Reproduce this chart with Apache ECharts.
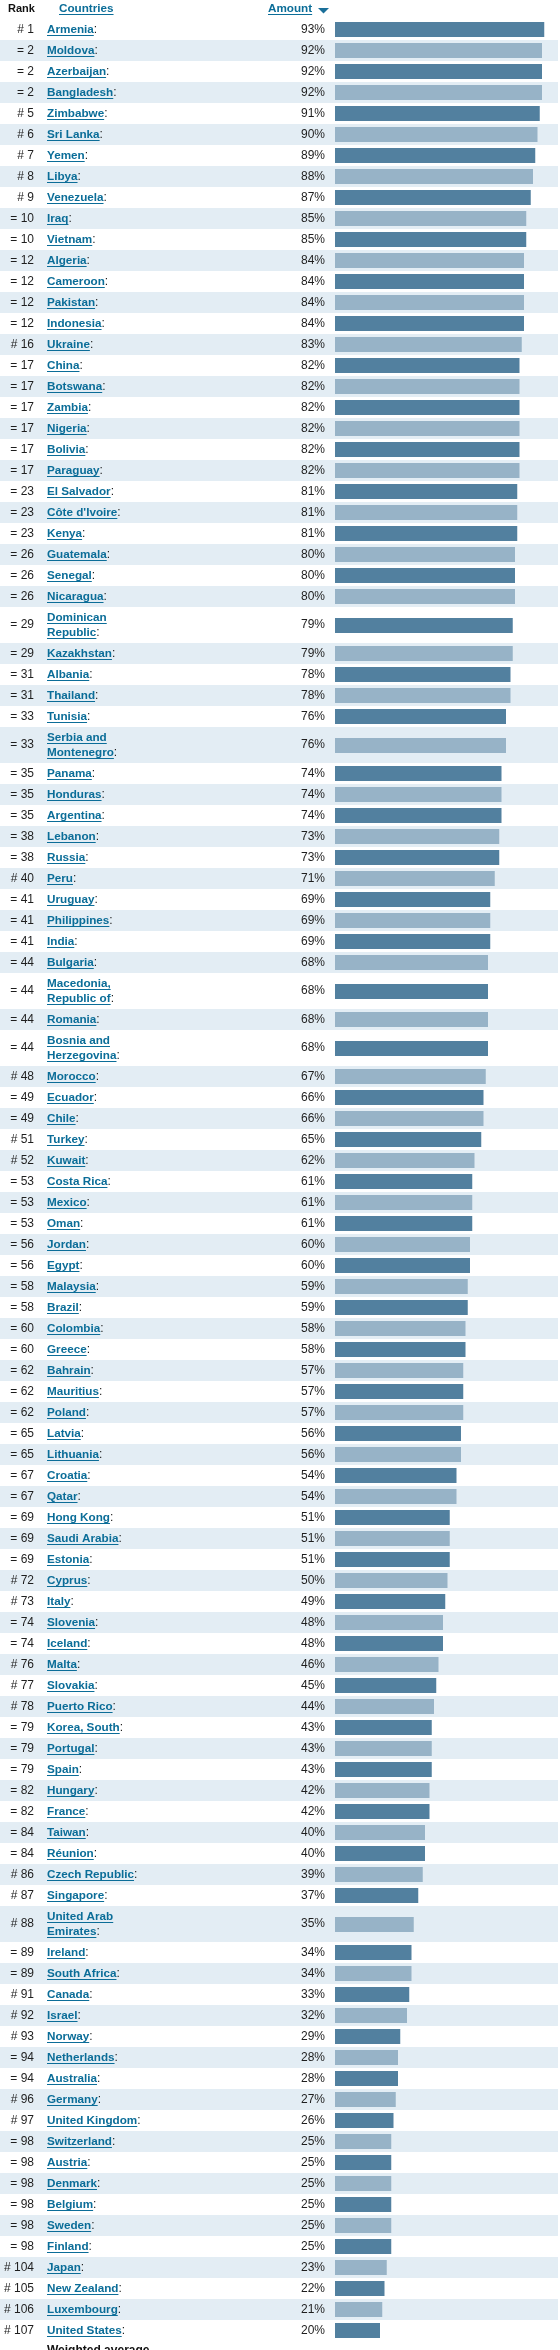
<!DOCTYPE html>
<html><head><meta charset="utf-8">
<script src="https://cdn.jsdelivr.net/npm/echarts@6/dist/echarts.min.js"></script>
<style>html,body{margin:0;padding:0;background:#fff}#chart{width:560px;height:2350px}</style>
</head><body><div id="chart"></div>
<script>
const headerLabels = ["Rank", "Countries", "Amount"];
const footerText = "Weighted average";
const ranks = ["# 1","= 2","= 2","= 2","# 5","# 6","# 7","# 8","# 9","= 10","= 10","= 12","= 12","= 12","= 12","# 16","= 17","= 17","= 17","= 17","= 17","= 17","= 23","= 23","= 23","= 26","= 26","= 26","= 29","= 29","= 31","= 31","= 33","= 33","= 35","= 35","= 35","= 38","= 38","# 40","= 41","= 41","= 41","= 44","= 44","= 44","= 44","# 48","= 49","= 49","# 51","# 52","= 53","= 53","= 53","= 56","= 56","= 58","= 58","= 60","= 60","= 62","= 62","= 62","= 65","= 65","= 67","= 67","= 69","= 69","= 69","# 72","# 73","= 74","= 74","# 76","# 77","# 78","= 79","= 79","= 79","= 82","= 82","= 84","= 84","# 86","# 87","# 88","= 89","= 89","# 91","# 92","# 93","= 94","= 94","# 96","# 97","= 98","= 98","= 98","= 98","= 98","= 98","# 104","# 105","# 106","# 107"];
const countries = ["Armenia","Moldova","Azerbaijan","Bangladesh","Zimbabwe","Sri Lanka","Yemen","Libya","Venezuela","Iraq","Vietnam","Algeria","Cameroon","Pakistan","Indonesia","Ukraine","China","Botswana","Zambia","Nigeria","Bolivia","Paraguay","El Salvador","Côte d'Ivoire","Kenya","Guatemala","Senegal","Nicaragua","Dominican\nRepublic","Kazakhstan","Albania","Thailand","Tunisia","Serbia and\nMontenegro","Panama","Honduras","Argentina","Lebanon","Russia","Peru","Uruguay","Philippines","India","Bulgaria","Macedonia,\nRepublic of","Romania","Bosnia and\nHerzegovina","Morocco","Ecuador","Chile","Turkey","Kuwait","Costa Rica","Mexico","Oman","Jordan","Egypt","Malaysia","Brazil","Colombia","Greece","Bahrain","Mauritius","Poland","Latvia","Lithuania","Croatia","Qatar","Hong Kong","Saudi Arabia","Estonia","Cyprus","Italy","Slovenia","Iceland","Malta","Slovakia","Puerto Rico","Korea, South","Portugal","Spain","Hungary","France","Taiwan","Réunion","Czech Republic","Singapore","United Arab\nEmirates","Ireland","South Africa","Canada","Israel","Norway","Netherlands","Australia","Germany","United Kingdom","Switzerland","Austria","Denmark","Belgium","Sweden","Finland","Japan","New Zealand","Luxembourg","United States"];
const amounts = [93,92,92,92,91,90,89,88,87,85,85,84,84,84,84,83,82,82,82,82,82,82,81,81,81,80,80,80,79,79,78,78,76,76,74,74,74,73,73,71,69,69,69,68,68,68,68,67,66,66,65,62,61,61,61,60,60,59,59,58,58,57,57,57,56,56,54,54,51,51,51,50,49,48,48,46,45,44,43,43,43,42,42,40,40,39,37,35,34,34,33,32,29,28,28,27,26,25,25,25,25,25,25,23,22,21,20];

const FF = '"Liberation Sans", Arial, Helvetica, sans-serif';
const NAME_FONT = 'bold 11.7px ' + FF;
const REG_FONT = '12px ' + FF;
const LINK = '#0b6d98', TXT = '#1e1e1e', BAND = '#e3edf4', DARK = '#52809f', LIGHT = '#97b3c7';
const TOP = 19, ROW_H = 21, LINE_H = 15, BAR_H = 15;
const RANK_X = 34, NAME_X = 47, PCT_X = 325, BAND_W = 558;

const mctx = document.createElement('canvas').getContext('2d');
function tw(t, font) { mctx.font = font; return mctx.measureText(t).width; }

// row extents (in row-height units of the y value axis) derived from label line counts
const rows = [];
let acc = 0;
countries.forEach((c, i) => {
  const h = ROW_H + (c.split('\n').length - 1) * LINE_H;
  rows.push([amounts[i], acc, acc + h, i]);
  acc += h;
});
const total = acc;

function renderItem(params, api) {
  const i = api.value(3), v = api.value(0), y0 = api.value(1), y1 = api.value(2);
  const pa = api.coord([0, y0]), pb = api.coord([0, y1]);
  const top = pa[1], bot = pb[1], mid = (top + bot) / 2;
  const pe = api.coord([v, (y0 + y1) / 2]);
  const ch = [];
  if (i % 2 === 1) ch.push({ type: 'rect', shape: { x: 0, y: top, width: BAND_W, height: bot - top }, style: { fill: BAND } });
  ch.push({ type: 'rect', shape: { x: pa[0], y: Math.round(mid - BAR_H / 2), width: pe[0] - pa[0], height: BAR_H }, style: { fill: i % 2 ? LIGHT : DARK } });
  ch.push({ type: 'text', x: RANK_X, y: mid, style: { text: ranks[i], font: REG_FONT, fill: TXT, align: 'right', verticalAlign: 'middle' } });
  ch.push({ type: 'text', x: PCT_X, y: mid, style: { text: v + '%', font: REG_FONT, fill: TXT, align: 'right', verticalAlign: 'middle' } });
  const lines = countries[i].split('\n');
  lines.forEach((ln, k) => {
    const cy = mid + (k - (lines.length - 1) / 2) * LINE_H;
    const w = tw(ln, NAME_FONT);
    ch.push({ type: 'text', x: NAME_X, y: cy, style: { text: ln, font: NAME_FONT, fill: LINK, align: 'left', verticalAlign: 'middle' } });
    ch.push({ type: 'rect', shape: { x: NAME_X, y: Math.round(cy + 5), width: w, height: 1 }, style: { fill: LINK } });
    if (k === lines.length - 1) ch.push({ type: 'text', x: NAME_X + w, y: cy, style: { text: ':', font: REG_FONT, fill: TXT, align: 'left', verticalAlign: 'middle' } });
  });
  return { type: 'group', children: ch };
}

const hW1 = tw(headerLabels[1], NAME_FONT), hW2 = tw(headerLabels[2], NAME_FONT);
const chart = echarts.init(document.getElementById('chart'), null, { renderer: 'canvas' });
chart.setOption({
  backgroundColor: '#ffffff',
  animation: false,
  grid: { left: 335, top: TOP, width: 236, height: total },
  xAxis: { type: 'value', min: 0, max: 100, show: false },
  yAxis: { type: 'value', min: 0, max: total, inverse: true, show: false },
  series: [{ type: 'custom', clip: false, renderItem, data: rows, encode: { x: 0, y: [1, 2] } }],
  graphic: [
    { type: 'text', x: 8, y: 9, style: { text: headerLabels[0], font: 'bold 11px ' + FF, fill: '#111', verticalAlign: 'middle' } },
    { type: 'text', x: 59, y: 9, style: { text: headerLabels[1], font: NAME_FONT, fill: LINK, verticalAlign: 'middle' } },
    { type: 'rect', shape: { x: 59, y: 14, width: hW1, height: 1 }, style: { fill: LINK } },
    { type: 'text', x: 268, y: 9, style: { text: headerLabels[2], font: NAME_FONT, fill: LINK, verticalAlign: 'middle' } },
    { type: 'rect', shape: { x: 268, y: 14, width: hW2, height: 1 }, style: { fill: LINK } },
    { type: 'polygon', shape: { points: [[318, 8], [329, 8], [323.5, 13.5]] }, style: { fill: '#1a6f99' } },
    { type: 'text', x: NAME_X, y: TOP + total + 4, style: { text: footerText, font: 'bold 12px ' + FF, fill: '#111', verticalAlign: 'top' } }
  ]
});
</script></body></html>
